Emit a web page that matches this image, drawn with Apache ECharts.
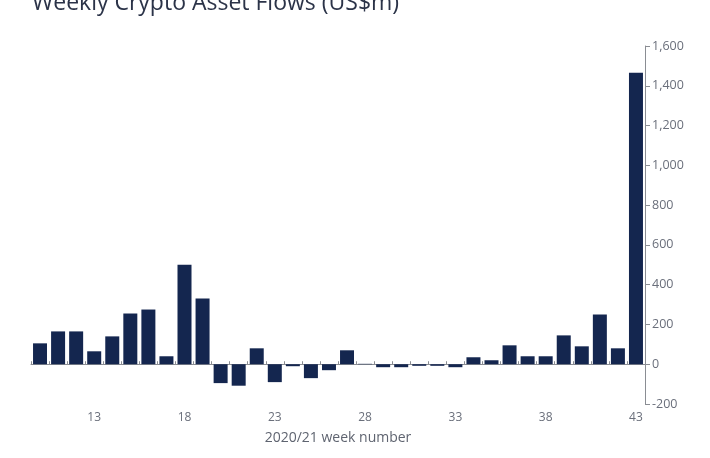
<!DOCTYPE html>
<html>
<head>
<meta charset="utf-8">
<style>
html, body { margin: 0; padding: 0; background: #fff; }
#chart { width: 710px; height: 458px; }
</style>
<script src="https://cdn.jsdelivr.net/npm/echarts@6/dist/echarts.min.js"></script>
</head>
<body>
<div id="chart"></div>
<script>
// week numbers and weekly flows (US$m)
const weeks = ['10','11','12','13','14','15','16','17','18','19','20','21','22','23','24','25','26',
    '27','28','29','30','31','32','33','34','35','36','37','38','39','40','41','42','43'];
const flows = [105,165,165,65,140,255,275,40,500,330,-95,-108,80,-90,-10,-70,-30,
    70,2,-15,-15,-8,-8,-15,35,20,95,40,40,145,90,250,80,1465];
const yTicks = { min: -200, max: 1600, step: 200 };

var myChart = echarts.init(document.getElementById('chart'));

const option = {
    animation: false,
    backgroundColor: '#fff',
    textStyle: { fontFamily: '"Open Sans", sans-serif' },
    title: {
        text: 'Weekly Crypto Asset Flows (US$m)',
        left: 27,
        top: -13,
        textStyle: { fontSize: 23, fontWeight: 'normal', color: '#2b3348', fontFamily: '"Open Sans", sans-serif' }
    },
    grid: { left: 31, right: 65, top: 46, bottom: 54 },
    xAxis: [
        {
            // labels along the bottom
            type: 'category',
            data: weeks,
            position: 'bottom',
            axisLine: { show: false, onZero: false },
            axisTick: { show: false },
            axisLabel: {
                color: '#6a6f7b',
                fontSize: 12,
                margin: 8,
                interval: function (i, val) { return (Number(val) - 13) % 5 === 0; }
            },
            name: '2020/21 week number',
            nameLocation: 'middle',
            nameGap: 27,
            nameTextStyle: { color: '#5f6470', fontSize: 14 }
        },
        {
            // zero line with ticks between bars
            type: 'category',
            data: weeks,
            axisLine: { onZero: true, lineStyle: { color: '#8a8d93', width: 1 } },
            axisTick: { show: true, length: 3, alignWithLabel: false, interval: 0, lineStyle: { color: '#8a8d93' } },
            axisLabel: { show: false }
        }
    ],
    yAxis: {
        type: 'value',
        position: 'right',
        min: yTicks.min,
        max: yTicks.max,
        interval: yTicks.step,
        splitLine: { show: false },
        axisLine: { show: true, lineStyle: { color: '#8a8d93', width: 1 } },
        axisTick: { show: true, length: 5, lineStyle: { color: '#8a8d93' } },
        axisLabel: {
            color: '#6a6f7b',
            fontSize: 12.5,
            margin: 7,
            formatter: function (v) { return v.toLocaleString('en-US'); }
        }
    },
    series: [{
        type: 'bar',
        data: flows,
        barWidth: 14,
        itemStyle: { color: '#14264f' }
    }]
};

myChart.setOption(option);
</script>
</body>
</html>
